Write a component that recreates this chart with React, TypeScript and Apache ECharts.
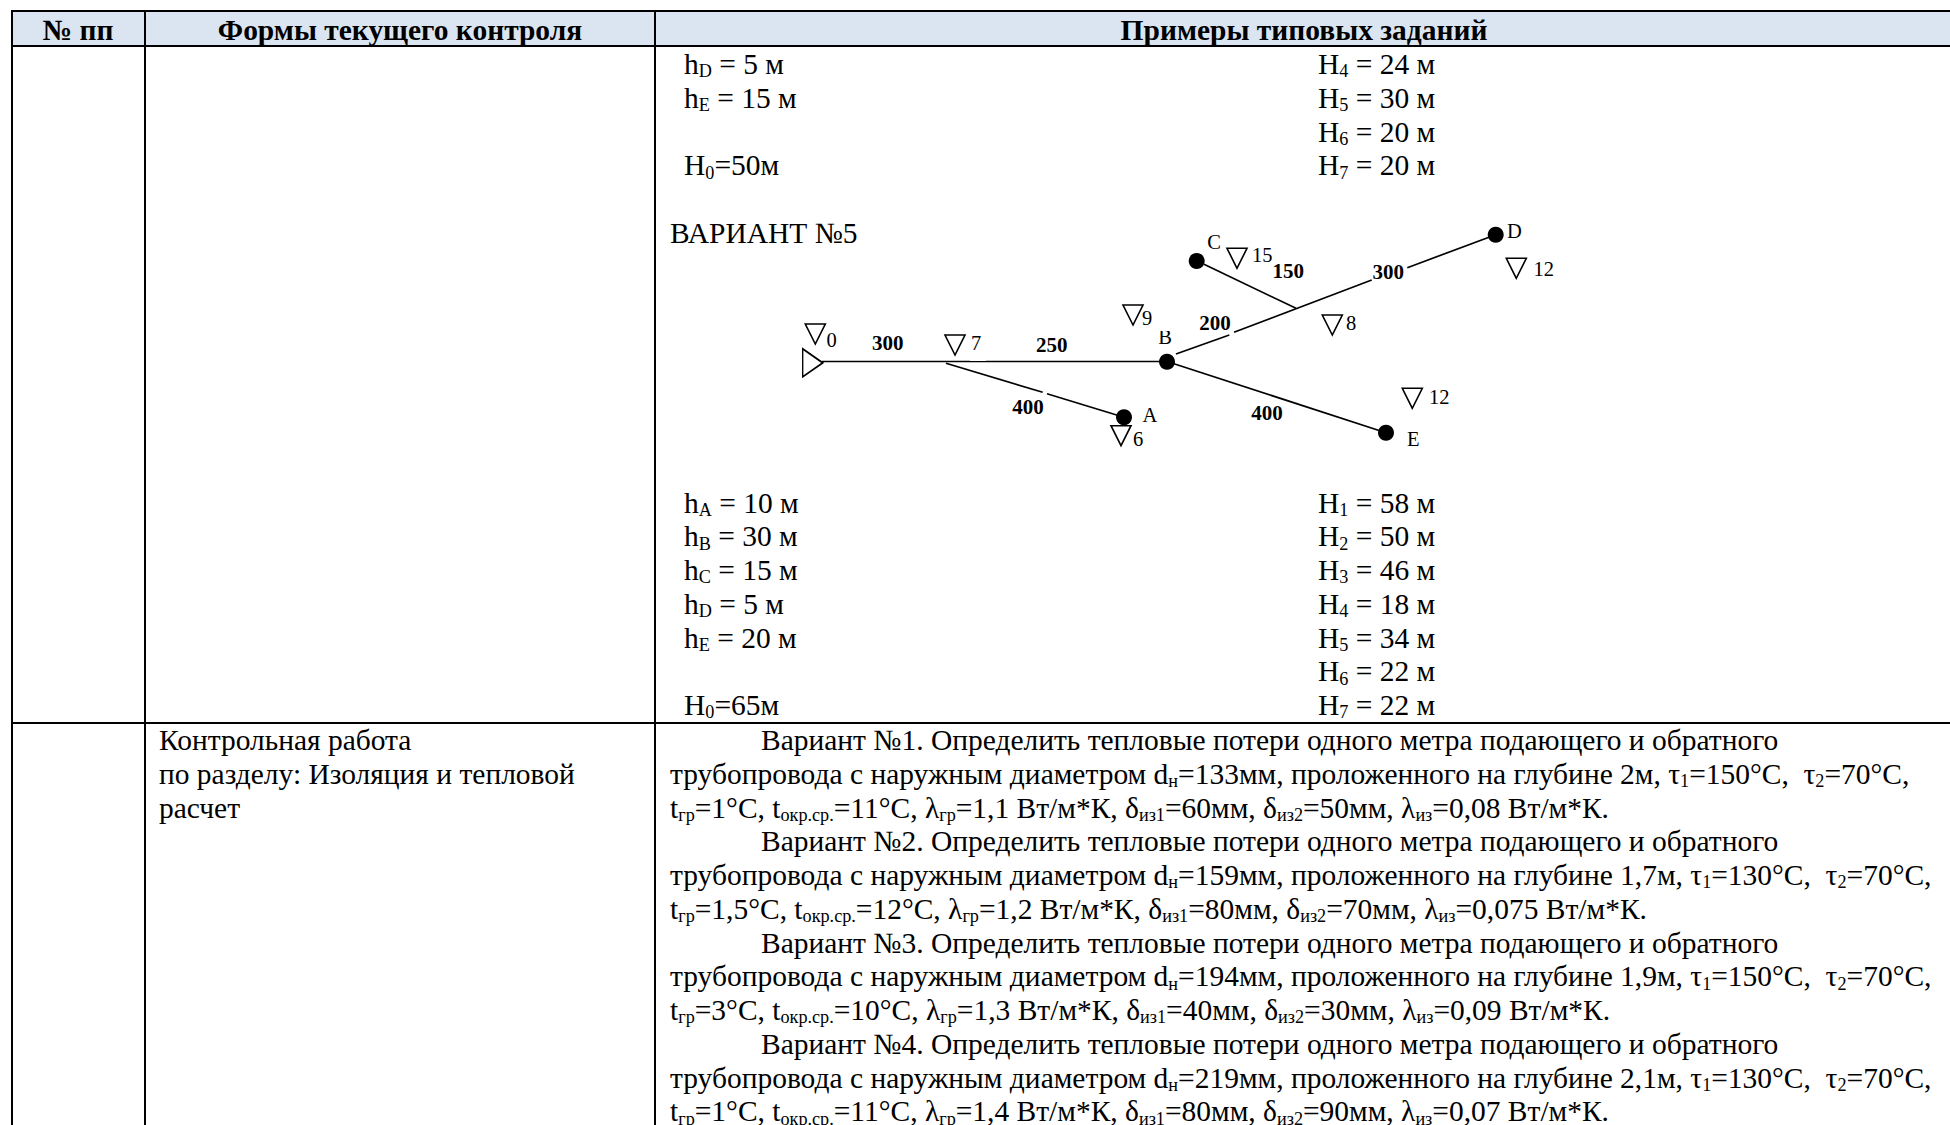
import React, { useEffect, useRef } from "react";
import * as echarts from "echarts";

const FONT = '"Liberation Serif"';
const W = 1950;
const H = 1125;

const headers = ["№ пп", "Формы текущего контроля", "Примеры типовых заданий"];
const topLeftLines = ["h_{D} = 5 м", "h_{E} = 15 м", "", "H_{0}=50м"];
const topRightLines = ["H_{4} = 24 м", "H_{5} = 30 м", "H_{6} = 20 м", "H_{7} = 20 м"];
const variantTitle = "ВАРИАНТ №5";
const midLeftLines = ["h_{A} = 10 м", "h_{B} = 30 м", "h_{C} = 15 м", "h_{D} = 5 м", "h_{E} = 20 м", "", "H_{0}=65м"];
const midRightLines = ["H_{1} = 58 м", "H_{2} = 50 м", "H_{3} = 46 м", "H_{4} = 18 м", "H_{5} = 34 м", "H_{6} = 22 м", "H_{7} = 22 м"];
const formLines = ["Контрольная работа", "по разделу: Изоляция и тепловой", "расчет"];
const taskLines = [
  "Вариант №1. Определить тепловые потери одного метра подающего и обратного",
  "трубопровода с наружным диаметром d_{н}=133мм, проложенного на глубине 2м, τ_{1}=150°С,\u00a0 τ_{2}=70°С,",
  "t_{гр}=1°С, t_{окр.ср.}=11°С, λ_{гр}=1,1 Вт/м*К, δ_{из1}=60мм, δ_{из2}=50мм, λ_{из}=0,08 Вт/м*К.",
  "Вариант №2. Определить тепловые потери одного метра подающего и обратного",
  "трубопровода с наружным диаметром d_{н}=159мм, проложенного на глубине 1,7м, τ_{1}=130°С,\u00a0 τ_{2}=70°С,",
  "t_{гр}=1,5°С, t_{окр.ср.}=12°С, λ_{гр}=1,2 Вт/м*К, δ_{из1}=80мм, δ_{из2}=70мм, λ_{из}=0,075 Вт/м*К.",
  "Вариант №3. Определить тепловые потери одного метра подающего и обратного",
  "трубопровода с наружным диаметром d_{н}=194мм, проложенного на глубине 1,9м, τ_{1}=150°С,\u00a0 τ_{2}=70°С,",
  "t_{гр}=3°С, t_{окр.ср.}=10°С, λ_{гр}=1,3 Вт/м*К, δ_{из1}=40мм, δ_{из2}=30мм, λ_{из}=0,09 Вт/м*К.",
  "Вариант №4. Определить тепловые потери одного метра подающего и обратного",
  "трубопровода с наружным диаметром d_{н}=219мм, проложенного на глубине 2,1м, τ_{1}=130°С,\u00a0 τ_{2}=70°С,",
  "t_{гр}=1°С, t_{окр.ср.}=11°С, λ_{гр}=1,4 Вт/м*К, δ_{из1}=80мм, δ_{из2}=90мм, λ_{из}=0,07 Вт/м*К.",
];

// Table rules: [x1, y1, x2, y2]
const tableRules = [
  [11, 11, 1950, 11],
  [11, 46, 1950, 46],
  [12, 10, 12, 1125],
  [145, 10, 145, 1125],
  [655, 10, 655, 1125],
  [11, 723, 1950, 723],
];

// Diagram: pipes
const pipes = [
  [[822, 361.5], [1167, 361.5]],
  [[946, 363.3], [1042.7, 392.3]],
  [[1047, 393.7], [1124, 417.3]],
  [[1176, 354], [1229.3, 335]],
  [[1234, 332.3], [1371.7, 280]],
  [[1407.3, 267.7], [1495.7, 234.7]],
  [[1204, 264.3], [1296, 308.3]],
  [[1167, 361.5], [1386, 432.7]],
];
const nodes = [
  [1124, 417.3],
  [1167, 361.7],
  [1196.7, 261],
  [1495.7, 234.7],
  [1386, 432.7],
];
const levelMarks = [
  [815.3, 334],
  [955, 345],
  [1121, 435.7],
  [1133, 315],
  [1237, 258.3],
  [1332.3, 325],
  [1516.3, 268.3],
  [1412.3, 398.3],
];
const plainLabels: [number, number, string][] = [
  [831.7, 340, "0"],
  [976, 343, "7"],
  [1138, 439, "6"],
  [1147, 318, "9"],
  [1262.3, 255, "15"],
  [1351, 323.3, "8"],
  [1543.7, 269, "12"],
  [1439.3, 396.7, "12"],
  [1150, 415, "A"],
  [1165, 337, "В"],
  [1214, 241.7, "C"],
  [1514.3, 231, "D"],
  [1413.3, 439, "E"],
];
const lengthLabels: [number, number, string][] = [
  [887.7, 342.7, "300"],
  [1051.7, 345, "250"],
  [1028, 407.3, "400"],
  [1215, 323.3, "200"],
  [1288.3, 271, "150"],
  [1388.3, 271.7, "300"],
  [1267, 413.3, "400"],
];

const BODY = 29.47;
const SUB = 18.2;
const PITCH = 33.75;
const CENTRAL = 0.3375;

let ctx: CanvasRenderingContext2D | null = null;
function measure(text: string, font: string) {
  if (!ctx) ctx = document.createElement("canvas").getContext("2d");
  ctx!.font = font;
  return ctx!.measureText(text).width;
}

function runs(line: string) {
  const out: { t: string; sub: boolean }[] = [];
  const re = /_\{([^}]*)\}/g;
  let last = 0;
  let m: RegExpExecArray | null;
  while ((m = re.exec(line))) {
    if (m.index > last) out.push({ t: line.slice(last, m.index), sub: false });
    out.push({ t: m[1], sub: true });
    last = m.index + m[0].length;
  }
  if (last < line.length) out.push({ t: line.slice(last), sub: false });
  return out;
}

function textLine(line: string, x0: number, baseline: number): any[] {
  const els: any[] = [];
  let x = x0;
  for (const r of runs(line)) {
    const fs = r.sub ? SUB : BODY;
    const font = `${fs}px ${FONT}`;
    const b = r.sub ? baseline + 3.5 : baseline;
    els.push({
      type: "text",
      x,
      y: b - CENTRAL * fs,
      style: { text: r.t, font, fill: "#000", textAlign: "left", textVerticalAlign: "middle" },
    });
    x += measure(r.t, font);
  }
  return els;
}

function block(lines: string[], x: number, startBaseline: number): any[] {
  return lines.flatMap((l, i) => (l ? textLine(l, x, startBaseline + i * PITCH) : []));
}

export default function App() {
  const ref = useRef<HTMLDivElement>(null);
  useEffect(() => {
    document.body.style.margin = "0";
    const chart = echarts.init(ref.current!, undefined, { renderer: "svg" });
    const headerCenters = [78, 400, 1304];
    const lineSeries = (pts: number[][], width: number, name: string) => ({
      type: "line",
      name,
      data: pts,
      showSymbol: false,
      symbol: "none",
      silent: true,
      lineStyle: { color: "#000", width, cap: "butt" },
      z: 3,
    });
    const labelStyle = { show: true, position: "inside", formatter: "{b}", color: "#000", fontFamily: FONT };
    chart.setOption({
      animation: false,
      backgroundColor: "#fff",
      grid: { left: 0, right: 0, top: 0, bottom: 0 },
      xAxis: { type: "value", min: 0, max: W, show: false },
      yAxis: { type: "value", min: 0, max: H, inverse: true, show: false },
      series: [
        ...tableRules.map((r, i) => lineSeries([[r[0], r[1]], [r[2], r[3]]], 2, `rule${i}`)),
        ...pipes.map((p, i) => lineSeries(p, 1.7, `pipe${i}`)),
        {
          type: "scatter",
          name: "nodes",
          data: nodes,
          symbol: "circle",
          symbolSize: 16,
          itemStyle: { color: "#000", opacity: 1 },
          silent: true,
          z: 4,
        },
        {
          type: "scatter",
          name: "levels",
          data: levelMarks,
          symbol: "triangle",
          symbolRotate: 180,
          symbolSize: [20, 20],
          itemStyle: { color: "rgba(0,0,0,0)", borderColor: "#000", borderWidth: 1.6, opacity: 1 },
          silent: true,
          z: 4,
        },
        {
          type: "scatter",
          name: "source",
          data: [[812.7, 362.8]],
          symbol: "triangle",
          symbolRotate: -90,
          symbolSize: [28, 20],
          itemStyle: { color: "rgba(0,0,0,0)", borderColor: "#000", borderWidth: 1.6, opacity: 1 },
          silent: true,
          z: 4,
        },
        {
          type: "scatter",
          name: "plain",
          data: plainLabels.map((d) => ({ value: [d[0], d[1]], name: d[2] })),
          symbolSize: 0,
          silent: true,
          z: 5,
          itemStyle: { opacity: 1 },
          label: { ...labelStyle, fontSize: 20.5 },
        },
        {
          type: "scatter",
          name: "lengths",
          data: lengthLabels.map((d) => ({ value: [d[0], d[1]], name: d[2] })),
          symbolSize: 0,
          silent: true,
          z: 5,
          itemStyle: { opacity: 1 },
          label: { ...labelStyle, fontWeight: "bold", fontSize: 21 },
        },
      ],
      graphic: [
        {
          type: "group",
          silent: true,
          children: [
            { type: "rect", shape: { x: 12, y: 11, width: W - 12, height: 35 }, style: { fill: "#dbe5f1" } },
            ...headers.map((h, i) => ({
              type: "text",
              x: headerCenters[i],
              y: 39.5 - CENTRAL * BODY,
              style: {
                text: h,
                font: `bold ${BODY}px ${FONT}`,
                fill: "#000",
                textAlign: "center",
                textVerticalAlign: "middle",
              },
            })),
            ...block(topLeftLines, 684, 74),
            ...block(topRightLines, 1318, 74),
            ...textLine(variantTitle, 670, 243),
            ...block(midLeftLines, 684, 512.5),
            ...block(midRightLines, 1318, 512.5),
            ...block(formLines, 159, 750),
            ...taskLines.flatMap((l, i) => textLine(l, i % 3 === 0 ? 761 : 670, 750 + i * PITCH)),
          ],
        },
        { type: "rect", z: 10, silent: true, shape: { x: 1155, y: 324, width: 20, height: 7 }, style: { fill: "#fff" } },
        { type: "rect", z: 10, silent: true, shape: { x: 970, y: 360, width: 16, height: 1 }, style: { fill: "#fff" } },
      ],
    });
    return () => chart.dispose();
  }, []);
  return <div ref={ref} style={{ width: W, height: H, position: "fixed", left: 0, top: 0 }} />;
}
